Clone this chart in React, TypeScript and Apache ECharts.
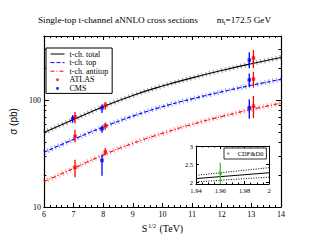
import React, { useEffect, useRef } from "react";
import * as echarts from "echarts";

// Theory curves (aNNLO), sqrt(s) in TeV, cross sections in pb
const energies = [6, 7, 8, 9, 10, 11, 12, 13, 14];
const totalXs = [50, 66, 87, 111, 136, 162, 190, 220, 252];
const topXs = [32.5, 43, 56, 71, 87, 103, 120, 138, 157];
const antitopXs = [17.3, 23, 30.7, 39.5, 49, 59.5, 70.5, 82, 94];

// Measurements: [sqrt(s), value, low, high]
const atlasTotal = [[7.05, 69.6, 60.5, 77.5], [8.07, 89.7, 82, 96.5], [13.07, 249, 200, 295]];
const atlasTop = [[7.05, 46, 40.5, 53], [8.07, 57.5, 53, 62], [13.07, 158, 132, 185]];
const atlasAntitop = [[7.05, 23.5, 19, 27.7], [8.07, 32.8, 30.3, 35.7], [13.07, 88, 68, 110]];
const cmsTotal = [[6.97, 67.2, 61.5, 72.5], [7.96, 85, 76, 91.5], [12.93, 238, 200, 282]];
const cmsTop = [[7.96, 54, 49.7, 58], [12.93, 155, 134, 178]];
const cmsAntitop = [[7.96, 27.3, 19.6, 30.9], [12.93, 85, 67, 102]];

// Tevatron inset
const tevEnergies = [1.94, 2.0];
const tevCentral = [2.1, 2.26];
const tevUpper = [2.19, 2.4];
const tevLower = [2.01, 2.14];
const cdfD0 = [[1.96, 2.25, 1.93, 2.54]];

const yMajor = [10, 100];
const yMinor = [20, 30, 40, 50, 60, 70, 80, 90, 200, 300, 400];
const insetYTicks = [2, 2.5, 3];

const SERIF = "Liberation Serif";

const pairs = (xs: number[], ys: number[]) => xs.map((x, i) => [x, ys[i]]);

function errSeries(name: string, data: number[][], color: string, xi = 0, yi = 0) {
  return {
    type: "custom",
    name,
    xAxisIndex: xi,
    yAxisIndex: yi,
    clip: true,
    data,
    encode: { x: 0, y: [1, 2, 3] },
    renderItem: (params: any, api: any) => {
      const x = api.value(0);
      const p1 = api.coord([x, api.value(2)]);
      const p2 = api.coord([x, api.value(3)]);
      return {
        type: "line",
        shape: { x1: p1[0], y1: p1[1], x2: p2[0], y2: p2[1] },
        style: { stroke: color, lineWidth: 1.3 },
      };
    },
    z: 5,
  };
}

function markSeries(name: string, data: number[][], color: string, xi = 0, yi = 0) {
  return {
    type: "scatter",
    name,
    xAxisIndex: xi,
    yAxisIndex: yi,
    data: data.map((d) => [d[0], d[1]]),
    symbol: "rect",
    symbolSize: 3.5,
    itemStyle: { color },
    z: 6,
  };
}

function curve(name: string, ys: number[], color: string, type: any, band: string) {
  return [
    {
      type: "line",
      name: name + "-band",
      data: pairs(energies, ys),
      smooth: true,
      symbol: "none",
      lineStyle: { color: band, width: 5, type: [1.2, 2.8], cap: "butt" },
      z: 2,
    },
    {
      type: "line",
      name,
      data: pairs(energies, ys),
      smooth: true,
      symbol: "none",
      lineStyle: { color, width: 1.1, type },
      itemStyle: { color },
      z: 3,
    },
  ];
}

const mainX = (pos: string, labels: boolean) => ({
  type: "value",
  gridIndex: 0,
  position: pos,
  min: 6,
  max: 14,
  interval: 1,
  axisLine: { show: true, lineStyle: { color: "#000", width: 1.2 } },
  axisTick: { show: true, inside: true, length: 4, lineStyle: { color: "#000" } },
  minorTick: { show: true, splitNumber: 5, length: 2, lineStyle: { color: "#000" } },
  splitLine: { show: false },
  axisLabel: { show: labels, color: "#000", fontFamily: SERIF, fontSize: 8, margin: 3 },
});

const mainY = (pos: string, major: boolean, labels: boolean) => ({
  type: "log",
  gridIndex: 0,
  position: pos,
  logBase: 10,
  min: 10,
  max: 400,
  axisLine: { show: major, lineStyle: { color: "#000", width: 1.2 } },
  axisTick: {
    show: true,
    inside: true,
    length: major ? 5 : 2.5,
    customValues: major ? yMajor : yMinor,
    lineStyle: { color: "#000" },
  },
  splitLine: { show: false },
  axisLabel: {
    show: labels,
    customValues: yMajor,
    color: "#000",
    fontFamily: SERIF,
    fontSize: 8,
    margin: 3,
  },
  name: labels ? "σ (pb)" : "",
  nameLocation: "middle",
  nameGap: 16,
  nameTextStyle: { fontFamily: "Liberation Sans", fontSize: 10, color: "#000" },
});

const insetX = (pos: string, labels: boolean) => ({
  type: "value",
  gridIndex: 1,
  position: pos,
  min: 1.94,
  max: 2,
  interval: 0.02,
  axisLine: { show: true, lineStyle: { color: "#000", width: 1 } },
  axisTick: { show: true, inside: true, length: 3, lineStyle: { color: "#000" } },
  minorTick: { show: true, splitNumber: 4, length: 1.5, lineStyle: { color: "#000" } },
  splitLine: { show: false },
  axisLabel: {
    show: labels,
    color: "#000",
    fontFamily: SERIF,
    fontSize: 6.5,
    margin: 3,
    formatter: (v: number) => String(Math.round(v * 100) / 100),
  },
});

const insetY = (pos: string, labels: boolean) => ({
  type: "value",
  gridIndex: 1,
  position: pos,
  min: 1.95,
  max: 3,
  axisLine: { show: true, lineStyle: { color: "#000", width: 1 } },
  axisTick: { show: true, inside: true, length: 3, customValues: insetYTicks, lineStyle: { color: "#000" } },
  splitLine: { show: false },
  axisLabel: {
    show: labels,
    customValues: insetYTicks,
    color: "#000",
    fontFamily: SERIF,
    fontSize: 6.5,
    margin: 3,
  },
});

export default function App() {
  const ref = useRef<HTMLDivElement>(null);
  useEffect(() => {
    if (!ref.current) return;
    const chart = echarts.init(ref.current, null, { renderer: "svg" });
    const tStyle = { fontFamily: SERIF, fontSize: 9.2, fontWeight: "normal", color: "#000", lineHeight: 12 };
    const hideSym = { opacity: 0 };
    chart.setOption({
      animation: false,
      backgroundColor: "#fff",
      title: {
        left: 33,
        top: 9,
        text: "{a|Single-top t-channel aNNLO cross sections}{m|m}{s|t}{a|=172.5 GeV}",
        textStyle: {
          fontWeight: "normal",
          rich: {
            a: tStyle,
            m: { ...tStyle, padding: [0, 0, 0, 19] },
            s: { ...tStyle, fontSize: 6, padding: [5, 0, 0, 0] },
          },
        },
      },
      legend: [
        {
          orient: "vertical",
          left: 46,
          top: 48,
          z: 20,
          padding: [2, 4, 1, 4],
          itemGap: 0.6,
          itemWidth: 14,
          itemHeight: 3,
          itemTextGap: 3,
          borderColor: "#000",
          borderWidth: 1,
          backgroundColor: "#fff",
          lineStyle: { width: 1 },
          textStyle: { fontFamily: SERIF, fontSize: 8, color: "#000", lineHeight: 8 },
          data: [
            { name: "t-ch. total", itemStyle: hideSym },
            { name: "t-ch. top", itemStyle: hideSym },
            { name: "t-ch. antitop", itemStyle: hideSym },
            { name: "ATLAS", icon: "circle" },
            { name: "CMS", icon: "circle" },
          ],
        },
        {
          left: 224,
          top: 148,
          z: 20,
          padding: [2, 3, 2, 3],
          itemWidth: 9,
          itemHeight: 2.5,
          itemTextGap: 5,
          borderColor: "#000",
          borderWidth: 0.8,
          backgroundColor: "#fff",
          textStyle: { fontFamily: SERIF, fontSize: 6.5, color: "#000", lineHeight: 7 },
          data: [{ name: "CDF&D0", icon: "circle" }],
        },
      ],
      grid: [
        { left: 36, right: 35, top: 36, bottom: 37 },
        { left: 196, top: 146, width: 73, height: 38, show: true, backgroundColor: "#fff", borderWidth: 0, z: 10 },
      ],
      xAxis: [
        {
          ...mainX("bottom", true),
          name: "{a|S}{s|1/2}{a| (TeV)}",
          nameLocation: "middle",
          nameGap: 14,
          nameTextStyle: {
            rich: {
              a: { fontFamily: SERIF, fontSize: 10, color: "#000", lineHeight: 12 },
              s: { fontFamily: SERIF, fontSize: 6, color: "#000", lineHeight: 12, padding: [0, 1, 6, 1] },
            },
          },
        },
        mainX("top", false),
        { ...insetX("bottom", true), z: 11 },
        { ...insetX("top", false), z: 11 },
      ],
      yAxis: [
        mainY("left", true, true),
        mainY("left", false, false),
        mainY("right", true, false),
        mainY("right", false, false),
        { ...insetY("left", true), z: 11 },
        { ...insetY("right", false), z: 11 },
      ],
      series: [
        ...curve("t-ch. total", totalXs, "#000", "solid", "rgba(60,60,60,0.45)"),
        ...curve("t-ch. top", topXs, "#0000ff", [4, 2], "rgba(0,0,255,0.35)"),
        ...curve("t-ch. antitop", antitopXs, "#ff0000", [4, 2, 1, 2], "rgba(255,0,0,0.35)"),
        errSeries("atlas-err-total", atlasTotal, "#ff0000"),
        errSeries("atlas-err-top", atlasTop, "#ff0000"),
        errSeries("atlas-err-antitop", atlasAntitop, "#ff0000"),
        errSeries("cms-err-total", cmsTotal, "#0000ff"),
        errSeries("cms-err-top", cmsTop, "#0000ff"),
        errSeries("cms-err-antitop", cmsAntitop, "#0000ff"),
        markSeries("ATLAS", [...atlasTotal, ...atlasTop, ...atlasAntitop], "#ff0000"),
        markSeries("CMS", [...cmsTotal, ...cmsTop, ...cmsAntitop], "#0000ff"),
        {
          type: "line",
          name: "tev-central",
          xAxisIndex: 2,
          yAxisIndex: 4,
          data: pairs(tevEnergies, tevCentral),
          symbol: "none",
          lineStyle: { color: "#000", width: 1 },
          z: 12,
        },
        {
          type: "line",
          name: "tev-upper",
          xAxisIndex: 2,
          yAxisIndex: 4,
          data: pairs(tevEnergies, tevUpper),
          symbol: "none",
          lineStyle: { color: "#000", width: 1, type: [1, 1.5] },
          z: 12,
        },
        {
          type: "line",
          name: "tev-lower",
          xAxisIndex: 2,
          yAxisIndex: 4,
          data: pairs(tevEnergies, tevLower),
          symbol: "none",
          lineStyle: { color: "#000", width: 1, type: [1, 1.5] },
          z: 12,
        },
        { ...errSeries("cdf-err", cdfD0, "#33cc33", 2, 4), z: 13 },
        { ...markSeries("CDF&D0", cdfD0, "#33aa33", 2, 4), symbolSize: 3, z: 14 },
      ],
    });
    return () => chart.dispose();
  }, []);
  return (
    <div
      ref={ref}
      style={{ position: "fixed", left: 0, top: 0, width: 316, height: 244 }}
    />
  );
}
